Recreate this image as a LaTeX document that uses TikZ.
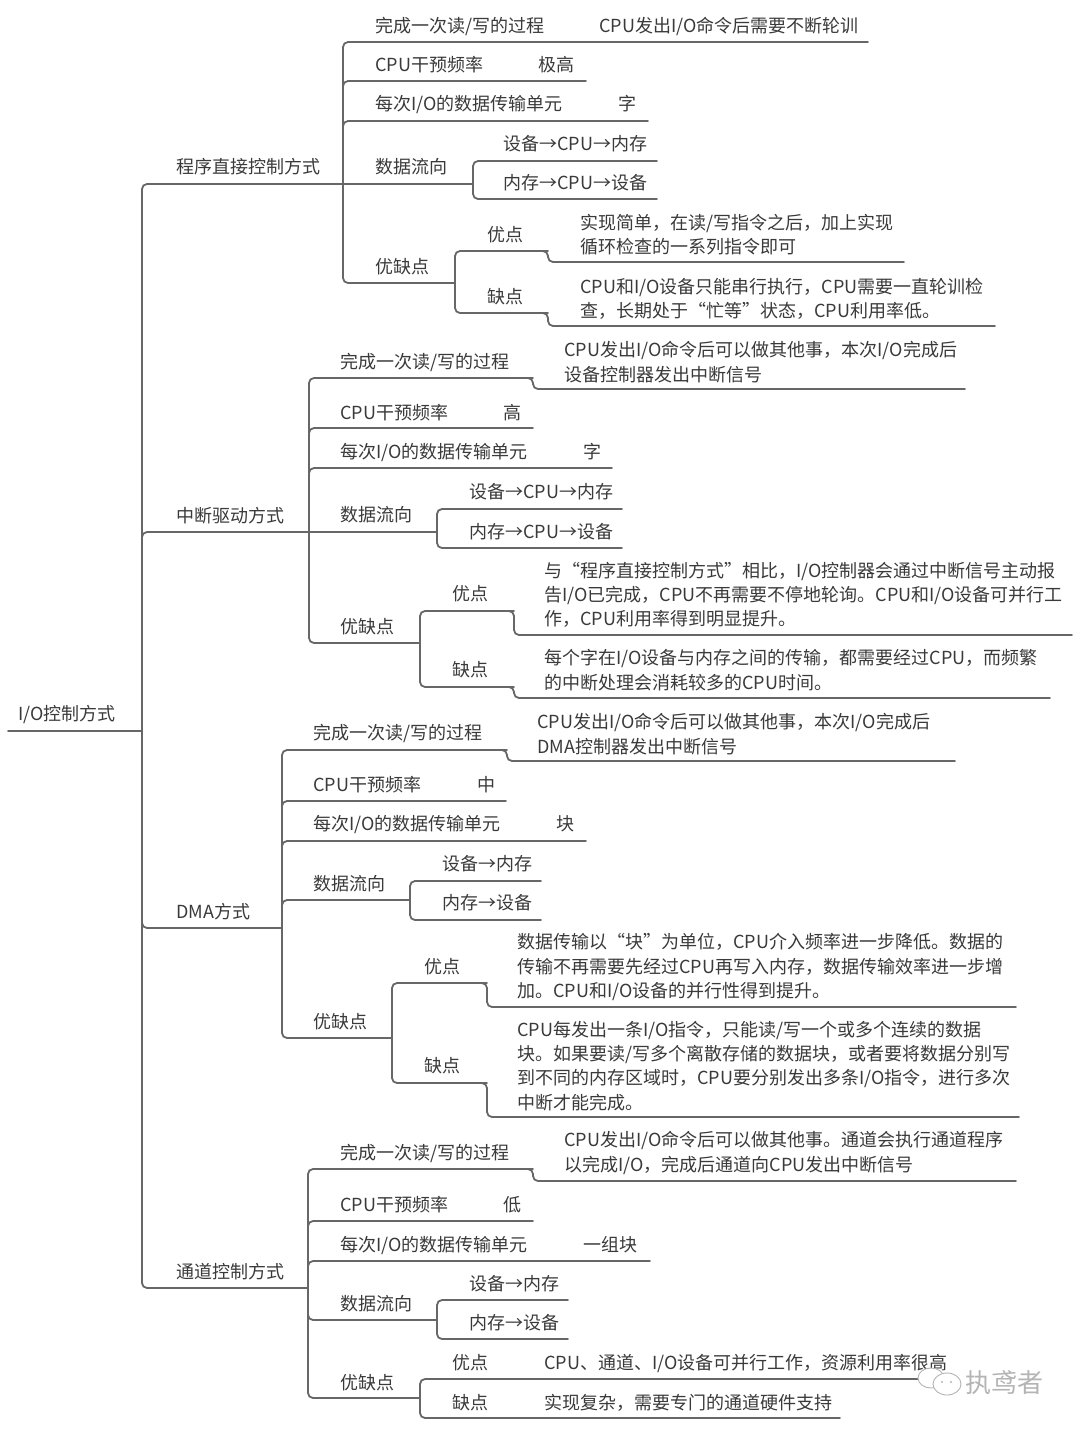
\documentclass[tikz,border=0pt]{standalone}
\usepackage{fontspec}
\setmainfont{Noto Sans CJK SC}
\usepackage{tikz}
\usepackage{xcolor}
\definecolor{txtgray}{HTML}{3A3A3A}
\definecolor{lngray}{HTML}{676767}
\definecolor{wmgray}{HTML}{B4B4B4}

\begin{document}
\begin{tikzpicture}[x=1pt,y=-1pt,line cap=round,
  txt/.style={anchor=west,inner sep=0pt,align=left,text=txtgray,font=\fontsize{18}{24.3}\selectfont},
  ln/.style={draw=lngray,line width=1.8pt,rounded corners=5pt},
  wmicon/.style={draw=wmgray,line width=0.9pt,fill=white}]
\fill[white] (0,0) rectangle (1080,1430);
\useasboundingbox (0,0) rectangle (1080,1430);

% root
\node[txt] (io) at (18,714) {I/O控制方式};
\coordinate (io-s) at (8,731);
\coordinate (io-e) at (142,731);
\draw[ln] (io-s) -- (io-e);

% ---- 程序直接控制方式
\node[txt] (pd) at (176,167) {程序直接控制方式};
\coordinate (pd-e) at (343,184);
\draw[ln] (io-e) |- (pd-e);

\node[txt] (pd-gc) at (375,26) {完成一次读/写的过程};
\coordinate (pd-gc-e) at (567,42);
\draw[ln] (pd-e) |- (pd-gc-e);
\node[txt] (pd-gc-v) at (599,26) {CPU发出I/O命令后需要不断轮训};
\coordinate (pd-gc-v-e) at (868,42);
\draw[ln] (pd-gc-e) -- (pd-gc-v-e);

\node[txt] (pd-pl) at (375,65) {CPU干预频率};
\coordinate (pd-pl-e) at (506,81);
\draw[ln] (pd-e) |- (pd-pl-e);
\node[txt] (pd-pl-v) at (538,65) {极高};
\coordinate (pd-pl-v-e) at (586,81);
\draw[ln] (pd-pl-e) -- (pd-pl-v-e);

\node[txt] (pd-dw) at (375,104) {每次I/O的数据传输单元};
\coordinate (pd-dw-e) at (586,121);
\draw[ln] (pd-e) |- (pd-dw-e);
\node[txt] (pd-dw-v) at (618,104) {字};
\coordinate (pd-dw-v-e) at (648,121);
\draw[ln] (pd-dw-e) -- (pd-dw-v-e);

\node[txt] (pd-lx) at (375,167) {数据流向};
\coordinate (pd-lx-e) at (473,184);
\draw[ln] (pd-e) -- (pd-lx-e);
\node[txt] (pd-lx1) at (503,144) {设备→CPU→内存};
\coordinate (pd-lx1-e) at (657,161);
\draw[ln] (pd-lx-e) |- (pd-lx1-e);
\node[txt] (pd-lx2) at (503,183) {内存→CPU→设备};
\coordinate (pd-lx2-e) at (657,199);
\draw[ln] (pd-lx-e) |- (pd-lx2-e);

\node[txt] (pd-yq) at (375,267) {优缺点};
\coordinate (pd-yq-e) at (455,283);
\draw[ln] (pd-e) |- (pd-yq-e);
\node[txt] (pd-yd) at (487,235) {优点};
\coordinate (pd-yd-e) at (548,251);
\draw[ln] (pd-yq-e) |- (pd-yd-e);
\node[txt] (pd-yd-v) at (580,235) {实现简单，在读/写指令之后，加上实现\\循环检查的一系列指令即可};
\coordinate (pd-yd-v-e) at (904,262);
\draw[ln] ([xshift=-20pt]pd-yd-e) -- (pd-yd-e) |- (pd-yd-v-e);
\node[txt] (pd-qd) at (487,297) {缺点};
\coordinate (pd-qd-e) at (548,313);
\draw[ln] (pd-yq-e) |- (pd-qd-e);
\node[txt] (pd-qd-v) at (580,299) {CPU和I/O设备只能串行执行，CPU需要一直轮训检\\查，长期处于“忙等”状态，CPU利用率低。};
\coordinate (pd-qd-v-e) at (995,326);
\draw[ln] ([xshift=-20pt]pd-qd-e) -- (pd-qd-e) |- (pd-qd-v-e);

% ---- 中断驱动方式
\node[txt] (zd) at (176,516) {中断驱动方式};
\coordinate (zd-e) at (309,532);
\draw[ln] (io-e) |- (zd-e);

\node[txt] (zd-gc) at (340,362) {完成一次读/写的过程};
\coordinate (zd-gc-e) at (533,378);
\draw[ln] (zd-e) |- (zd-gc-e);
\node[txt] (zd-gc-v) at (564,362) {CPU发出I/O命令后可以做其他事，本次I/O完成后\\设备控制器发出中断信号};
\coordinate (zd-gc-v-e) at (965,389);
\draw[ln] ([xshift=-20pt]zd-gc-e) -- (zd-gc-e) |- (zd-gc-v-e);

\node[txt] (zd-pl) at (340,413) {CPU干预频率};
\coordinate (zd-pl-e) at (471,428);
\draw[ln] (zd-e) |- (zd-pl-e);
\node[txt] (zd-pl-v) at (503,413) {高};
\coordinate (zd-pl-v-e) at (533,428);
\draw[ln] (zd-pl-e) -- (zd-pl-v-e);

\node[txt] (zd-dw) at (340,452) {每次I/O的数据传输单元};
\coordinate (zd-dw-e) at (551,468);
\draw[ln] (zd-e) |- (zd-dw-e);
\node[txt] (zd-dw-v) at (583,452) {字};
\coordinate (zd-dw-v-e) at (612,468);
\draw[ln] (zd-dw-e) -- (zd-dw-v-e);

\node[txt] (zd-lx) at (340,515) {数据流向};
\coordinate (zd-lx-e) at (437,532);
\draw[ln] (zd-e) -- (zd-lx-e);
\node[txt] (zd-lx1) at (469,492) {设备→CPU→内存};
\coordinate (zd-lx1-e) at (622,509);
\draw[ln] (zd-lx-e) |- (zd-lx1-e);
\node[txt] (zd-lx2) at (469,532) {内存→CPU→设备};
\coordinate (zd-lx2-e) at (622,548);
\draw[ln] (zd-lx-e) |- (zd-lx2-e);

\node[txt] (zd-yq) at (340,627) {优缺点};
\coordinate (zd-yq-e) at (420,643);
\draw[ln] (zd-e) |- (zd-yq-e);
\node[txt] (zd-yd) at (452,594) {优点};
\coordinate (zd-yd-e) at (514,611);
\draw[ln] (zd-yq-e) |- (zd-yd-e);
\node[txt] (zd-yd-v) at (544,595) {与“程序直接控制方式”相比，I/O控制器会通过中断信号主动报\\告I/O已完成，CPU不再需要不停地轮询。CPU和I/O设备可并行工\\作，CPU利用率得到明显提升。};
\coordinate (zd-yd-v-e) at (1072,635);
\draw[ln] ([xshift=-20pt]zd-yd-e) -- (zd-yd-e) |- (zd-yd-v-e);
\node[txt] (zd-qd) at (452,670) {缺点};
\coordinate (zd-qd-e) at (514,687);
\draw[ln] (zd-yq-e) |- (zd-qd-e);
\node[txt] (zd-qd-v) at (544,670) {每个字在I/O设备与内存之间的传输，都需要经过CPU，而频繁\\的中断处理会消耗较多的CPU时间。};
\coordinate (zd-qd-v-e) at (1050,698);
\draw[ln] ([xshift=-20pt]zd-qd-e) -- (zd-qd-e) |- (zd-qd-v-e);

% ---- DMA方式
\node[txt] (dma) at (176,912) {DMA方式};
\coordinate (dma-e) at (282,928);
\draw[ln] (io-e) |- (dma-e);

\node[txt] (dma-gc) at (313,733) {完成一次读/写的过程};
\coordinate (dma-gc-e) at (507,750);
\draw[ln] (dma-e) |- (dma-gc-e);
\node[txt] (dma-gc-v) at (537,734) {CPU发出I/O命令后可以做其他事，本次I/O完成后\\DMA控制器发出中断信号};
\coordinate (dma-gc-v-e) at (955,761);
\draw[ln] ([xshift=-20pt]dma-gc-e) -- (dma-gc-e) |- (dma-gc-v-e);

\node[txt] (dma-pl) at (313,785) {CPU干预频率};
\coordinate (dma-pl-e) at (445,801);
\draw[ln] (dma-e) |- (dma-pl-e);
\node[txt] (dma-pl-v) at (477,785) {中};
\coordinate (dma-pl-v-e) at (506,801);
\draw[ln] (dma-pl-e) -- (dma-pl-v-e);

\node[txt] (dma-dw) at (313,824) {每次I/O的数据传输单元};
\coordinate (dma-dw-e) at (524,841);
\draw[ln] (dma-e) |- (dma-dw-e);
\node[txt] (dma-dw-v) at (556,824) {块};
\coordinate (dma-dw-v-e) at (586,841);
\draw[ln] (dma-dw-e) -- (dma-dw-v-e);

\node[txt] (dma-lx) at (313,884) {数据流向};
\coordinate (dma-lx-e) at (410,900);
\draw[ln] (dma-e) |- (dma-lx-e);
\node[txt] (dma-lx1) at (442,864) {设备→内存};
\coordinate (dma-lx1-e) at (541,881);
\draw[ln] (dma-lx-e) |- (dma-lx1-e);
\node[txt] (dma-lx2) at (442,903) {内存→设备};
\coordinate (dma-lx2-e) at (541,920);
\draw[ln] (dma-lx-e) |- (dma-lx2-e);

\node[txt] (dma-yq) at (313,1022) {优缺点};
\coordinate (dma-yq-e) at (392,1038);
\draw[ln] (dma-e) |- (dma-yq-e);
\node[txt] (dma-yd) at (424,967) {优点};
\coordinate (dma-yd-e) at (487,983);
\draw[ln] (dma-yq-e) |- (dma-yd-e);
\node[txt] (dma-yd-v) at (517,967) {数据传输以“块”为单位，CPU介入频率进一步降低。数据的\\传输不再需要先经过CPU再写入内存，数据传输效率进一步增\\加。CPU和I/O设备的并行性得到提升。};
\coordinate (dma-yd-v-e) at (1016,1007);
\draw[ln] ([xshift=-20pt]dma-yd-e) -- (dma-yd-e) |- (dma-yd-v-e);
\node[txt] (dma-qd) at (424,1066) {缺点};
\coordinate (dma-qd-e) at (487,1083);
\draw[ln] (dma-yq-e) |- (dma-qd-e);
\node[txt] (dma-qd-v) at (517,1066) {CPU每发出一条I/O指令，只能读/写一个或多个连续的数据\\块。如果要读/写多个离散存储的数据块，或者要将数据分别写\\到不同的内存区域时，CPU要分别发出多条I/O指令，进行多次\\中断才能完成。};
\coordinate (dma-qd-v-e) at (1019,1117);
\draw[ln] ([xshift=-20pt]dma-qd-e) -- (dma-qd-e) |- (dma-qd-v-e);

% ---- 通道控制方式
\node[txt] (td) at (176,1272) {通道控制方式};
\coordinate (td-e) at (308,1288);
\draw[ln] (io-e) |- (td-e);

\node[txt] (td-gc) at (340,1153) {完成一次读/写的过程};
\coordinate (td-gc-e) at (533,1169);
\draw[ln] (td-e) |- (td-gc-e);
\node[txt] (td-gc-v) at (564,1153) {CPU发出I/O命令后可以做其他事。通道会执行通道程序\\以完成I/O，完成后通道向CPU发出中断信号};
\coordinate (td-gc-v-e) at (1016,1181);
\draw[ln] ([xshift=-20pt]td-gc-e) -- (td-gc-e) |- (td-gc-v-e);

\node[txt] (td-pl) at (340,1205) {CPU干预频率};
\coordinate (td-pl-e) at (471,1221);
\draw[ln] (td-e) |- (td-pl-e);
\node[txt] (td-pl-v) at (503,1205) {低};
\coordinate (td-pl-v-e) at (533,1221);
\draw[ln] (td-pl-e) -- (td-pl-v-e);

\node[txt] (td-dw) at (340,1245) {每次I/O的数据传输单元};
\coordinate (td-dw-e) at (551,1261);
\draw[ln] (td-e) |- (td-dw-e);
\node[txt] (td-dw-v) at (583,1245) {一组块};
\coordinate (td-dw-v-e) at (650,1261);
\draw[ln] (td-dw-e) -- (td-dw-v-e);

\node[txt] (td-lx) at (340,1304) {数据流向};
\coordinate (td-lx-e) at (437,1320);
\draw[ln] (td-e) |- (td-lx-e);
\node[txt] (td-lx1) at (469,1284) {设备→内存};
\coordinate (td-lx1-e) at (568,1300);
\draw[ln] (td-lx-e) |- (td-lx1-e);
\node[txt] (td-lx2) at (469,1323) {内存→设备};
\coordinate (td-lx2-e) at (568,1339);
\draw[ln] (td-lx-e) |- (td-lx2-e);

\node[txt] (td-yq) at (340,1383) {优缺点};
\coordinate (td-yq-e) at (420,1398);
\draw[ln] (td-e) |- (td-yq-e);
\node[txt] (td-yd) at (452,1363) {优点};
\coordinate (td-yd-e) at (514,1379);
\draw[ln] (td-yq-e) |- (td-yd-e);
\node[txt] (td-yd-v) at (544,1363) {CPU、通道、I/O设备可并行工作，资源利用率很高};
\coordinate (td-yd-v-e) at (950,1379);
\draw[ln] (td-yd-e) -- (td-yd-v-e);
\node[txt] (td-qd) at (452,1403) {缺点};
\coordinate (td-qd-e) at (514,1418);
\draw[ln] (td-yq-e) |- (td-qd-e);
\node[txt] (td-qd-v) at (544,1403) {实现复杂，需要专门的通道硬件支持};
\coordinate (td-qd-v-e) at (840,1418);
\draw[ln] (td-qd-e) -- (td-qd-v-e);

% watermark
\draw[wmicon] (931,1378) ellipse (13pt and 10pt);
\draw[wmicon] (947,1384) ellipse (14pt and 11pt);
\fill[wmgray] (942,1382) circle (1.1pt) (951,1382) circle (1.1pt);
\node[anchor=west,inner sep=0pt,text=wmgray,font=\fontsize{26}{28}\selectfont] (wm) at (965,1383) {执鸢者};
\end{tikzpicture}
\end{document}
